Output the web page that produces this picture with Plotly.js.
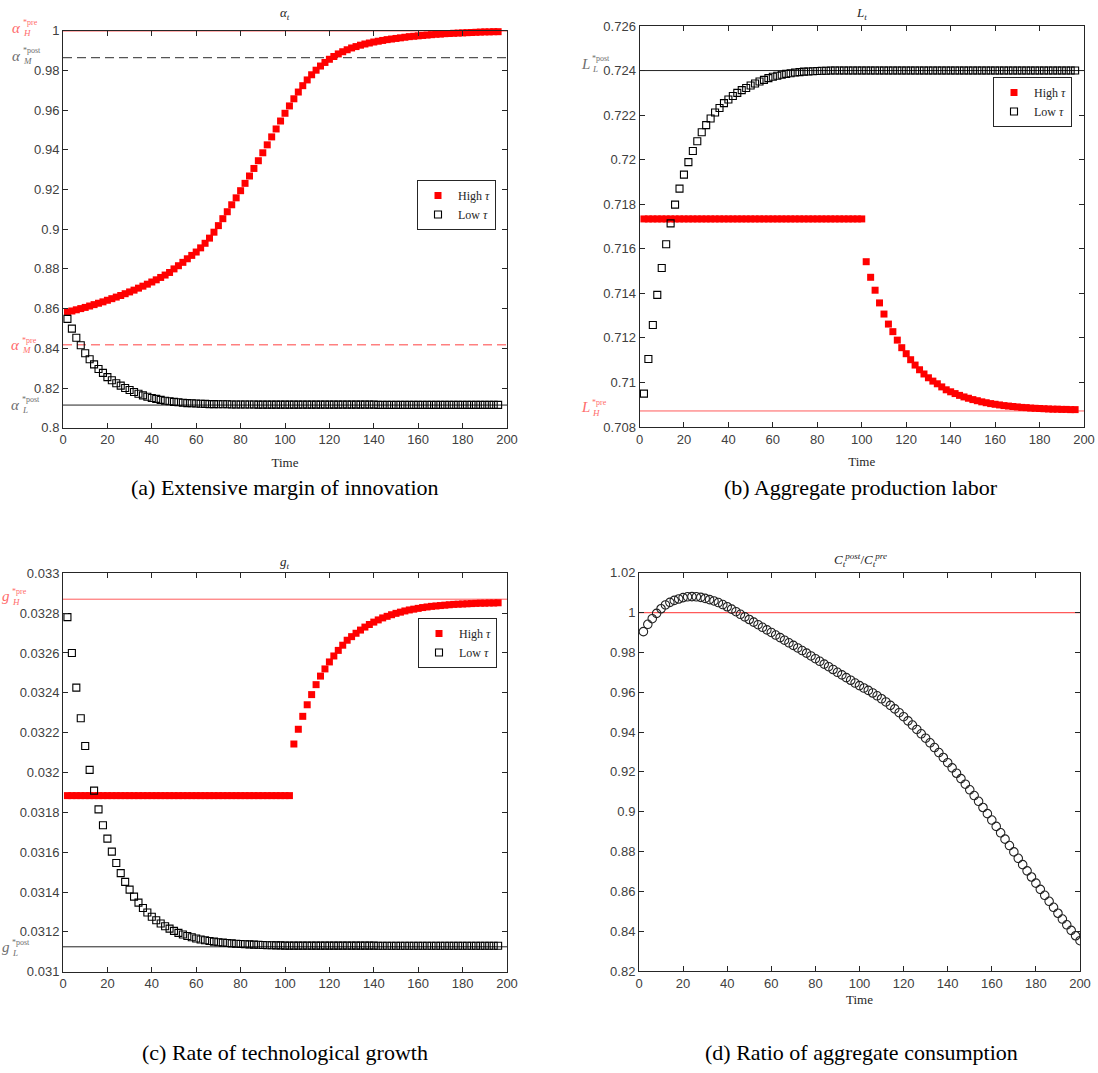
<!DOCTYPE html>
<html><head><meta charset="utf-8">
<script src="https://cdn.plot.ly/plotly-3.0.1.min.js"></script>
<style>body{margin:0;background:#fff}#chart{width:1098px;height:1073px}</style>
</head><body><div id="chart"></div>
<script>
// ---------------- DATA ----------------
const T = [2,4,6,8,10,12,14,16,18,20,22,24,26,28,30,32,34,36,38,40,42,44,46,48,50,52,54,56,58,60,62,64,66,68,70,72,74,76,78,80,82,84,86,88,90,92,94,96,98,100,102,104,106,108,110,112,114,116,118,120,122,124,126,128,130,132,134,136,138,140,142,144,146,148,150,152,154,156,158,160,162,164,166,168,170,172,174,176,178,180,182,184,186,188,190,192,194,196];
const T_d = [2,4,6,8,10,12,14,16,18,20,22,24,26,28,30,32,34,36,38,40,42,44,46,48,50,52,54,56,58,60,62,64,66,68,70,72,74,76,78,80,82,84,86,88,90,92,94,96,98,100,102,104,106,108,110,112,114,116,118,120,122,124,126,128,130,132,134,136,138,140,142,144,146,148,150,152,154,156,158,160,162,164,166,168,170,172,174,176,178,180,182,184,186,188,190,192,194,196,198,200];

const alphaHigh = [.8583,.8588,.8594,.8600,.8606,.8613,.8620,.8627,.8634,.8642,
.8650,.8658,.8666,.8675,.8684,.8693,.8703,.8713,.8723,.8734,
.8745,.8757,.8769,.8782,.8800,.8816,.8833,.8851,.8868,.8885,
.8906,.8929,.8955,.8985,.9018,.9053,.9088,.9123,.9158,.9194,
.9231,.9268,.9306,.9345,.9385,.9425,.9465,.9505,.9545,.9584,
.9621,.9657,.9691,.9723,.9752,.9778,.9801,.9822,.9840,.9856,
.9870,.9883,.9894,.9904,.9913,.9920,.9927,.9933,.9938,.9943,
.9947,.9951,.9955,.9958,.9961,.9964,.9967,.9970,.9972,.9974,
.9976,.9978,.9980,.9982,.9983,.9985,.9986,.9987,.9988,.9989,
.9990,.9991,.9992,.9993,.9994,.9994,.9995,.9995];
const alphaLow = [.8548,.8499,.8453,.8415,.8375,.8345,.8319,.8296,.8276,.8255,
.8239,.8224,.8212,.8200,.8190,.8180,.8171,.8163,.8156,.8150,
.8145,.8140,.8136,.8133,.8130,.8128,.8126,.8124,.8123,.8122,
.8121,.8120,.8119,.8119,.8118,.8118,.8118,.8117,.8117,.8117,
.8117,.8117,.8117,.8116,.8116,.8116,.8116,.8116,.8116,.8116,
.8116,.8116,.8116,.8116,.8116,.8116,.8116,.8116,.8116,.8116,
.8116,.8116,.8116,.8116,.8116,.8116,.8116,.8116,.8116,.8116,
.8115,.8115,.8115,.8115,.8115,.8115,.8115,.8115,.8115,.8115,
.8115,.8115,.8115,.8115,.8115,.8115,.8115,.8115,.8115,.8115,
.8115,.8115,.8115,.8115,.8115,.8115,.8115,.8115];

const laborHigh = [.71734,.71734,.71734,.71734,.71734,.71734,.71734,.71734,.71734,.71734,
.71734,.71734,.71734,.71734,.71734,.71734,.71734,.71734,.71734,.71734,
.71734,.71734,.71734,.71734,.71734,.71734,.71734,.71734,.71734,.71734,
.71734,.71734,.71734,.71734,.71734,.71734,.71734,.71734,.71734,.71734,
.71734,.71734,.71734,.71734,.71734,.71734,.71734,.71734,.71734,.71734,
.71542,.71472,.71414,.71357,.71307,.71262,.71228,.71190,.71156,.71129,
.71102,.71078,.71057,.71038,.71021,.71006,.70994,.70980,.70967,.70958,
.70950,.70942,.70935,.70929,.70923,.70918,.70913,.70909,.70905,.70902,
.70899,.70896,.70894,.70892,.70890,.70888,.70887,.70885,.70884,.70883,
.70882,.70881,.70880,.70880,.70879,.70879,.70878,.70878];
const laborLow = [.70950,.71105,.71258,.71393,.71514,.71620,.71714,.71798,.71870,.71933,
.71989,.72039,.72083,.72123,.72155,.72185,.72212,.72232,.72254,.72270,
.72286,.72300,.72312,.72322,.72333,.72342,.72351,.72358,.72366,.72372,
.72377,.72381,.72385,.72388,.72391,.72393,.72395,.72396,.72397,.72398,
.72399,.72399,.72400,.72400,.72400,.72400,.72400,.72400,.72400,.72400,
.72400,.72400,.72400,.72400,.72400,.72400,.72400,.72400,.72400,.72400,
.72400,.72400,.72400,.72400,.72400,.72400,.72400,.72400,.72400,.72400,
.72400,.72400,.72400,.72400,.72400,.72400,.72400,.72400,.72400,.72400,
.72400,.72400,.72400,.72400,.72400,.72400,.72400,.72400,.72400,.72400,
.72400,.72400,.72400,.72400,.72400,.72400,.72400,.72400];

const growthHigh = [.031884,.031884,.031884,.031884,.031884,.031884,.031884,.031884,.031884,.031884,
.031884,.031884,.031884,.031884,.031884,.031884,.031884,.031884,.031884,.031884,
.031884,.031884,.031884,.031884,.031884,.031884,.031884,.031884,.031884,.031884,
.031884,.031884,.031884,.031884,.031884,.031884,.031884,.031884,.031884,.031884,
.031884,.031884,.031884,.031884,.031884,.031884,.031884,.031884,.031884,.031884,
.031884,.032143,.032217,.032282,.032340,.032391,.032441,.032484,.032520,.032555,
.032585,.032613,.032639,.032664,.032682,.032699,.032715,.032730,.032743,.032755,
.032766,.032776,.032784,.032792,.032799,.032805,.032811,.032816,.032820,.032824,
.032828,.032831,.032834,.032836,.032838,.032840,.032842,.032844,.032845,.032846,
.032847,.032848,.032849,.032850,.032850,.032851,.032851,.032852];
const growthLow = [.032780,.032600,.032426,.032272,.032133,.032013,.031909,.031815,.031735,.031668,
.031603,.031546,.031495,.031451,.031412,.031377,.031347,.031320,.031297,.031276,
.031258,.031242,.031228,.031216,.031205,.031195,.031187,.031179,.031173,.031167,
.031162,.031158,.031154,.031151,.031148,.031146,.031144,.031142,.031140,.031139,
.031138,.031137,.031136,.031135,.031134,.031133,.031133,.031132,.031132,.031131,
.031131,.031131,.031131,.031131,.031131,.031131,.031131,.031131,.031131,.031131,
.031131,.031131,.031131,.031131,.031131,.031131,.031131,.031131,.031131,.031131,
.031130,.031130,.031130,.031130,.031130,.031130,.031130,.031130,.031130,.031130,
.031130,.031130,.031130,.031130,.031130,.031130,.031130,.031130,.031130,.031130,
.031130,.031130,.031130,.031130,.031130,.031130,.031130,.031130];

const consRatio = [.9904,.9941,.9969,.9996,1.0019,1.0038,1.0051,1.0061,1.0068,1.0075,
1.0079,1.0080,1.0079,1.0076,1.0071,1.0065,1.0058,1.0050,1.0040,1.0029,
1.0017,1.0004,.9991,.9978,.9965,.9952,.9939,.9926,.9913,.9900,
.9887,.9874,.9861,.9848,.9835,.9822,.9809,.9796,.9782,.9768,
.9755,.9741,.9728,.9714,.9700,.9687,.9673,.9660,.9646,.9633,
.9621,.9609,.9596,.9582,.9567,.9551,.9534,.9516,.9497,.9477,
.9456,.9435,.9413,.9391,.9369,.9346,.9322,.9297,.9272,.9246,
.9220,.9193,.9166,.9138,.9110,.9081,.9052,.9021,.8990,.8958,
.8926,.8894,.8862,.8830,.8798,.8766,.8734,.8703,.8672,.8641,
.8610,.8580,.8550,.8520,.8490,.8461,.8432,.8404,.8377,.8352];

// reference (steady-state) levels
const alphaRefs = {H_pre: 1.0, M_post: 0.9864, M_pre: 0.8418, L_post: 0.8114};
const laborRefs = {L_post: 0.72400, H_pre: 0.70872};
const growthRefs = {H_pre: 0.032870, L_post: 0.031125};
const consRef = 1.0;

// tick labels
const xTicks = [0,20,40,60,80,100,120,140,160,180,200];
const yTicksA = [0.8,0.82,0.84,0.86,0.88,0.9,0.92,0.94,0.96,0.98,1];
const yTextA = ['0.8','0.82','0.84','0.86','0.88','0.9','0.92','0.94','0.96','0.98','1'];
const yTicksB = [0.708,0.71,0.712,0.714,0.716,0.718,0.72,0.722,0.724,0.726];
const yTextB = ['0.708','0.71','0.712','0.714','0.716','0.718','0.72','0.722','0.724','0.726'];
const yTicksC = [0.031,0.0312,0.0314,0.0316,0.0318,0.032,0.0322,0.0324,0.0326,0.0328,0.033];
const yTextC = ['0.031','0.0312','0.0314','0.0316','0.0318','0.032','0.0322','0.0324','0.0326','0.0328','0.033'];
const yTicksD = [0.82,0.84,0.86,0.88,0.9,0.92,0.94,0.96,0.98,1,1.02];
const yTextD = ['0.82','0.84','0.86','0.88','0.9','0.92','0.94','0.96','0.98','1','1.02'];

// ---------------- LAYOUT ----------------
const W = 1098, H = 1073;
const px = v => v / W, py = v => 1 - v / H;
const AX = '#262626', TICKC = '#404040';
const RED = '#ff0000', REDLINE = '#ff5a5a', REDLABEL = '#ff6b6b', GRAYLABEL = '#6e6e6e';
const serif = 'Liberation Serif, Times New Roman, serif';
const sans = 'Liberation Sans, Arial, sans-serif';

function xAxis(d0, d1, anchor, title, standoff) {
  const ax = {domain: [px(d0), px(d1)], anchor: anchor, range: [0, 200], tickvals: xTicks,
    ticks: 'inside', ticklen: 5, tickcolor: AX, showline: true, linecolor: AX, linewidth: 1,
    mirror: 'ticks', showgrid: false, zeroline: false,
    tickfont: {family: sans, size: 13, color: TICKC}};
  if (title) ax.title = {text: title, font: {family: serif, size: 13, color: AX}, standoff: standoff};
  return ax;
}
function yAxis(top, bot, anchor, range, vals, txt) {
  return {domain: [py(bot), py(top)], anchor: anchor, range: range, tickvals: vals, ticktext: txt,
    ticks: 'inside', ticklen: 5, tickcolor: AX, showline: true, linecolor: AX, linewidth: 1,
    mirror: 'ticks', showgrid: false, zeroline: false,
    tickfont: {family: sans, size: 13, color: TICKC}};
}

function hi(x, y, xa, ya, lg) {
  return {x: x, y: y, xaxis: xa, yaxis: ya, type: 'scatter', mode: 'markers', name: 'High <i>τ</i>',
    legend: lg, showlegend: !!lg, marker: {symbol: 'square', size: 7, color: RED}, cliponaxis: false};
}
function lo(x, y, xa, ya, lg) {
  return {x: x, y: y, xaxis: xa, yaxis: ya, type: 'scatter', mode: 'markers', name: 'Low <i>τ</i>',
    legend: lg, showlegend: !!lg,
    marker: {symbol: 'square-open', size: 7, color: '#000', line: {width: 1.1, color: '#000'}}, cliponaxis: false};
}

const data = [
  hi(T, alphaHigh, 'x', 'y', 'legend'), lo(T, alphaLow, 'x', 'y', 'legend'),
  hi(T, laborHigh, 'x2', 'y2', 'legend2'), lo(T, laborLow, 'x2', 'y2', 'legend2'),
  hi(T, growthHigh, 'x3', 'y3', 'legend3'), lo(T, growthLow, 'x3', 'y3', 'legend3'),
  {x: T_d, y: consRatio, xaxis: 'x4', yaxis: 'y4', type: 'scatter', mode: 'markers', showlegend: false,
   marker: {symbol: 'circle-open', size: 8.5, color: '#222', line: {width: 1.1, color: '#222'}}}
];

function hline(xa, ya, val, color, width, dash) {
  return {type: 'line', xref: xa + ' domain', x0: 0, x1: 1, yref: ya, y0: val, y1: val,
    line: {color: color, width: width, dash: dash || 'solid'}, layer: 'below'};
}
const shapes = [
  hline('x', 'y', alphaRefs.H_pre, REDLINE, 1.6),
  hline('x', 'y', alphaRefs.M_post, '#555', 1.3, '9px,5px'),
  hline('x', 'y', alphaRefs.M_pre, '#ff8080', 1.3, '9px,5px'),
  hline('x', 'y', alphaRefs.L_post, '#222', 1),
  hline('x2', 'y2', laborRefs.L_post, '#222', 1),
  hline('x2', 'y2', laborRefs.H_pre, REDLINE, 1),
  hline('x3', 'y3', growthRefs.H_pre, REDLINE, 1),
  hline('x3', 'y3', growthRefs.L_post, '#222', 1),
  hline('x4', 'y4', consRef, REDLINE, 1.2)
];

const ann = [];
function txt(text, x, y, size, color, opts) {
  ann.push(Object.assign({text: text, xref: 'paper', yref: 'paper', x: px(x), y: py(y),
    showarrow: false, font: {family: serif, size: size, color: color},
    xanchor: 'center', yanchor: 'middle'}, opts || {}));
}
function refLabel(main, sup, sub, x, y, color) {
  txt('<i>' + main + '</i>', x, y, 15, color);
  txt(sup, x + 4.5, y - 5, 8, color, {xanchor: 'left'});
  txt('<i>' + sub + '</i>', x + 4.5, y + 5.5, 9, color, {xanchor: 'left'});
}
refLabel('α', '*pre', 'H', 16.5, 28, REDLABEL);
refLabel('α', '*post', 'M', 16.5, 56, GRAYLABEL);
refLabel('α', '*pre', 'M', 15.5, 345, REDLABEL);
refLabel('α', '*post', 'L', 15.5, 405, GRAYLABEL);
refLabel('L', '*post', 'L', 585, 64, GRAYLABEL);
refLabel('L', '*pre', 'H', 585, 407, REDLABEL);
refLabel('g', '*pre', 'H', 5.5, 596, REDLABEL);
refLabel('g', '*post', 'L', 5.5, 947, GRAYLABEL);

// panel titles
txt('<i>α<sub>t</sub></i>', 285, 13, 13, AX);
txt('<i>L<sub>t</sub></i>', 861, 13, 13, AX);
txt('<i>g<sub>t</sub></i>', 285, 562, 13, AX);
txt('<i>C</i><sub><i>t</i></sub><sup><i>post</i></sup>/<i>C</i><sub><i>t</i></sub><sup><i>pre</i></sup>', 860, 560, 13, AX);

// captions
txt('(a) Extensive margin of innovation', 285, 487, 22, '#000');
txt('(b) Aggregate production labor', 861, 487, 22, '#000');
txt('(c) Rate of technological growth', 285, 1052, 22, '#000');
txt('(d) Ratio of aggregate consumption', 861, 1052, 22, '#000');

function legendAt(right, top) {
  return {x: px(right), y: py(top), xanchor: 'right', yanchor: 'top', bgcolor: '#fff',
    bordercolor: AX, borderwidth: 1, font: {family: serif, size: 12, color: AX},
    tracegroupgap: 0, itemwidth: 30};
}

const layout = {
  width: W, height: H, margin: {l: 0, r: 0, t: 0, b: 0},
  paper_bgcolor: '#fff', plot_bgcolor: '#fff', showlegend: true,
  xaxis: xAxis(63, 507, 'y', 'Time', 11), yaxis: yAxis(30.7, 427.7, 'x', [0.8, 1.0], yTicksA, yTextA),
  xaxis2: xAxis(639.5, 1084, 'y2', 'Time', 11), yaxis2: yAxis(26, 427, 'x2', [0.708, 0.726], yTicksB, yTextB),
  xaxis3: xAxis(63, 507, 'y3'), yaxis3: yAxis(573.3, 971.7, 'x3', [0.031, 0.033], yTicksC, yTextC),
  xaxis4: xAxis(639, 1080, 'y4', 'Time', 5), yaxis4: yAxis(572.7, 971, 'x4', [0.82, 1.02], yTicksD, yTextD),
  legend: legendAt(496, 180), legend2: legendAt(1072, 77), legend3: legendAt(497, 618),
  shapes: shapes, annotations: ann
};

Plotly.newPlot('chart', data, layout, {displayModeBar: false, staticPlot: true});
</script></body></html>
